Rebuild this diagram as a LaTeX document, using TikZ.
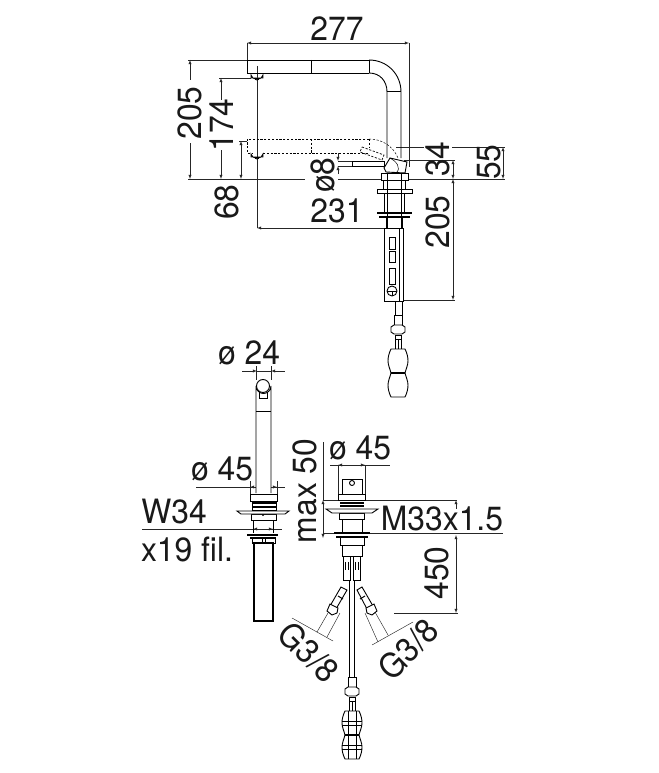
\documentclass[tikz,border=0pt]{standalone}
\usepackage{fontspec}
\setmainfont[FakeStretch=0.95]{TeX Gyre Heros}
\usetikzlibrary{arrows}
\tikzset{
    dimline/.style={line width=0.45pt, color=black!85},
    outline/.style={line width=0.9pt, fill=white},
    fineline/.style={line width=0.45pt, fill=white},
    hidden/.style={line width=0.5pt, dashed, dash pattern=on 2.2pt off 1.6pt},
    dimtext/.style={font=\fontsize{33.5}{35}\selectfont, inner sep=0pt, color=black!90}
}
\begin{document}
\begin{tikzpicture}[x=1pt, y=-1pt]
    \useasboundingbox (0,0) rectangle (658,773);
    % side view, dimensions
    \draw[dimline, latex-latex] (247,43) -- (409,43);
    \draw[dimline] (247,43) -- (247,60);
    \draw[dimline] (409,43) -- (409,167);
    \draw[dimline] (188,60) -- (247,60);
    \draw[dimline, latex-] (190,60) -- (190,80);
    \draw[dimline, -latex] (190,143) -- (190,179);
    \draw[dimline] (219,78) -- (251,78);
    \draw[dimline, latex-] (221,78) -- (221,100);
    \draw[dimline, -latex] (221,150) -- (221,179);
    \draw[dimline] (239,141) -- (247,141);
    \draw[dimline, latex-latex] (241,141) -- (241,179);
    \draw[dimline] (188,179) -- (305,179);
    \draw[dimline] (338,179) -- (505,179);
    \draw[dimline] (257,66) -- (257,228);
    \draw[dimline, latex-latex] (257,228) -- (392,228);
    \draw[dimline] (338,161) -- (352,161);
    \draw[dimline] (338,166) -- (352,166);
    \draw[dimline, -latex] (338,153) -- (338,161);
    \draw[dimline, -latex] (338,174) -- (338,166);
    \draw[dimline] (396,147) -- (424,147);
    \draw[dimline] (452,147) -- (505,147);
    \draw[dimline] (404,160) -- (455,160);
    \draw[dimline, latex-latex] (503,147) -- (503,179);
    \draw[dimline, latex-latex] (453,160) -- (453,179);
    \draw[dimline, latex-latex] (453,179) -- (453,300);
    \draw[dimline] (400,300) -- (455,300);
    % side view, spout
    \draw[line width=0.9pt] (369,60) -- (247,60) -- (247,73) -- (369,73);
    \draw[line width=0.9pt] (311,60) -- (311,73);
    \draw[line width=0.9pt] (369,60) -- (369,73);
    \draw[line width=0.9pt] (369,60) .. controls (387,60) and (401,74) .. (401,92) -- (401,158);
    \draw[line width=0.9pt] (369,73) .. controls (380,73) and (387,81) .. (387,92) -- (387,158);
    \draw[line width=0.9pt] (387,91) -- (401,91);
    \foreach \Point in {(257,71), (257,150)} {
        \draw[outline, shift={\Point}] (-6,7) -- (-6,4) arc (180:0:6 and 4) -- (6,7) -- cycle;
        \draw[line width=0.9pt, shift={\Point}] (-2,7) arc (180:0:2 and 2);
    }
    % side view, pulled out position
    \draw[hidden] (369,139) -- (247,139) -- (247,153) -- (252,153);
    \draw[hidden] (263,153) -- (369,153);
    \draw[hidden] (311,139) -- (311,153);
    \draw[hidden] (369,139) .. controls (382,139) and (393,146) .. (398,158);
    \draw[hidden] (369,139) -- (369,148);
    \draw[hidden, line width=0.7pt] (362,147) -- (384,155) -- (382,160) -- (360,152) -- cycle;
    % side view, lever and body
    \draw[outline] (352,161) rectangle (384,166);
    \draw[outline] (390,158) -- (407,162) -- (405,173) -- (386,172) -- (384,168) -- cycle;
    \draw[line width=0.5pt] (390,158) .. controls (396,161) and (402,168) .. (396,173);
    \foreach \xa/\ya/\xb/\yb in {381/173/408/180, 383/180/405/190, 384/193/404/212, 386/217/402/228, 384/228/403/301}
        \draw[outline] (\xa,\ya) rectangle (\xb,\yb);
    \draw[outline] (377,189) rectangle (412,193);
    \draw[line width=2pt] (377,213) -- (412,213);
    \draw[line width=1.6pt] (379,217) -- (410,217);
    \draw[line width=0.5pt] (387,173) -- (387,228);
    \draw[line width=0.5pt] (401,173) -- (401,228);
    \draw[line width=0.9pt] (399,228) -- (399,301);
    \draw[fineline] (389,237) rectangle (395,249);
    \draw[fineline] (389,251) rectangle (395,262);
    \draw[fineline] (389,268) rectangle (395,284);
    \draw[outline] (392,291) circle (5);
    \draw[line width=0.5pt] (387,291) -- (397,291);
    \draw[line width=0.5pt] (392,291) -- (392,296);
    \draw[line width=0.7pt] (395,301) -- (395,316);
    \draw[line width=0.7pt] (402,301) -- (402,316);
    % front view, dimensions
    \draw[dimline, latex-] (257,371) -- (242,371);
    \draw[dimline, latex-] (271,371) -- (285,371);
    \draw[dimline] (257,371) -- (271,371);
    \draw[dimline] (256,366) -- (256,380);
    \draw[dimline] (271,366) -- (271,380);
    \draw[dimline, latex-latex] (250,487) -- (277,487);
    \draw[dimline] (196,487) -- (285,487);
    \draw[dimline] (250,481) -- (250,494);
    \draw[dimline] (277,481) -- (277,494);
    \draw[dimline] (142,529) -- (282,529);
    \draw[dimline, latex-latex] (253,529) -- (273,529);
    % front view, tap
    \draw[outline] (256,493) -- (256,386) arc (180:0:7.5) -- (271,493);
    \draw[line width=0.9pt] (256,411) -- (271,411);
    \draw[line width=0.9pt] (259,392) -- (259,398) -- (267,398) -- (267,392);
    \draw[outline] (263,386) circle (6.5);
    \foreach \xa/\ya/\xb/\yb in {250/494/277/501, 252/501/276/510, 251/514/276/520, 252/538/275/543}
        \draw[outline] (\xa,\ya) rectangle (\xb,\yb);
    \draw[line width=0.9pt] (253,520) -- (253,533) (273,520) -- (273,533);
    \draw[outline] (237,511) -- (289,511) -- (285,514) -- (241,514) -- cycle;
    \draw[line width=1.4pt] (252,503) -- (276,503);
    \draw[line width=1.4pt] (252,507) -- (276,507);
    \draw[line width=1.6pt] (247,535) -- (278,535);
    \draw[line width=1.4pt] (250,538) -- (276,538);
    \draw[line width=1.4pt, fill=white] (254,543) rectangle (273,621);
    \draw[line width=0.5pt] (262,538) -- (262,543);
    \draw[line width=0.5pt] (265,538) -- (265,543);
    \fill (263,515) circle (1);
    % rear view, dimensions
    \draw[dimline] (330,465) -- (390,465);
    \draw[dimline, latex-latex] (338,465) -- (365,465);
    \draw[dimline] (338,465) -- (338,494);
    \draw[dimline] (365,465) -- (365,494);
    \draw[dimline] (323,442) -- (323,500);
    \draw[dimline, latex-latex] (323,500) -- (323,538);
    \draw[dimline] (323,500) -- (457,500);
    \draw[dimline] (323,533) -- (503,533);
    \draw[dimline, latex-] (456,500) -- (456,509);
    \draw[dimline, latex-latex] (456,535) -- (456,613);
    \draw[dimline] (394,613) -- (458,613);
    \draw[dimline] (328,613) -- (317,632);
    \draw[dimline] (340,613) -- (327,637);
    \draw[dimline] (292,618) -- (333,641);
    \draw[dimline] (365,613) -- (378,642);
    \draw[dimline] (375,612) -- (388,635);
    \draw[dimline] (372,645) -- (413,622);
    % rear view, tap
    \foreach \xa/\ya/\xb/\yb in {342/479/362/494, 338/494/365/500, 339/513/364/519, 340/537/364/545, 342/545/362/556, 343/556/350/580, 353/556/360/580}
        \draw[outline] (\xa,\ya) rectangle (\xb,\yb);
    \draw[line width=0.9pt] (342,519) -- (342,532) (362,519) -- (362,532);
    \draw[outline] (352,483) circle (2.5);
    \draw[line width=1.4pt] (340,503) -- (364,503);
    \draw[line width=1.4pt] (340,506) -- (364,506);
    \draw[outline] (326,509) -- (378,509) -- (372,513) -- (332,513) -- cycle;
    \draw[line width=1.6pt] (334,533) -- (370,533);
    \draw[line width=1.4pt] (336,537) -- (368,537);
    \draw[line width=1pt] (345,562) -- (345,570);
    \draw[line width=1pt] (348,562) -- (348,570);
    \draw[line width=1pt] (355,562) -- (355,570);
    \draw[line width=1pt] (358,562) -- (358,570);
    \draw[line width=0.8pt] (349,580) -- (349,677);
    \draw[line width=0.8pt] (354,580) -- (354,677);
    % rear view, supply hoses
    \draw[outline] (341,587) -- (347,590) -- (336,609) -- (330,606) -- cycle;
    \draw[line width=1pt] (338,596) -- (343,599);
    \draw[outline] (330,604) -- (338,608) -- (337,613) -- (332,615) -- (327,611) -- cycle;
    \draw[outline] (357,590) -- (362,587) -- (373,606) -- (367,609) -- cycle;
    \draw[line width=1pt] (360,599) -- (365,596);
    \draw[outline] (366,608) -- (374,604) -- (377,611) -- (372,615) -- (367,613) -- cycle;
    % hose ends and weights
    \foreach \Point in {(398,315), (352,677)} {
        \draw[outline, shift={\Point}] (-4,0) rectangle (4,10);
        \draw[outline, shift={\Point}] (-4,10) -- (4,10) -- (7,12) -- (7,17) -- (4,19) -- (-4,19) -- (-7,17) -- (-7,12) -- cycle;
        \draw[outline, shift={\Point}] (-3,20) rectangle (3,34);
        \draw[line width=1pt, shift={\Point}] (-3,24) -- (3,24) (0,24) -- (0,34);
        \draw[outline, shift={\Point}] (-7,34) -- (7,34) .. controls (9,38) and (10,42) .. (10,46) .. controls (10,50) and (8,54) .. (7,58) .. controls (8,62) and (10,66) .. (10,70) .. controls (10,74) and (9,78) .. (7,82) -- (-7,82) .. controls (-9,78) and (-10,74) .. (-10,70) .. controls (-10,66) and (-8,62) .. (-7,58) .. controls (-8,54) and (-10,50) .. (-10,46) .. controls (-10,42) and (-9,38) .. (-7,34) -- cycle;
        \draw[line width=1.3pt, shift={\Point}] (-7,58) -- (7,58);
    }
    \draw[line width=0.5pt] (342,721) -- (362,721) (342,725) -- (362,725) (342,745) -- (362,745) (342,749) -- (362,749);
    \draw[line width=0.5pt] (348,711) -- (348,759) (356,711) -- (356,759);
    % labels
    \node[dimtext] (widthA) at (337,29) {277};
    \node[dimtext, rotate=90] (heightA) at (190,113) {205};
    \node[dimtext, rotate=90] (heightB) at (222,125) {174};
    \node[dimtext, rotate=90] (heightC) at (227,202) {68};
    \node[dimtext, rotate=90] (leverD) at (323,175) {ø8};
    \node[dimtext] (reachA) at (337,211) {231};
    \node[dimtext, rotate=90] (offsetA) at (438,159) {34};
    \node[dimtext, rotate=90] (offsetB) at (489,162) {55};
    \node[dimtext, rotate=90] (bodyA) at (438,222) {205};
    \node[dimtext] (spoutD) at (249,353) {ø 24};
    \node[dimtext] (baseD) at (222,469) {ø 45};
    \node[dimtext] (threadA) at (174,512) {W34};
    \node[dimtext] (threadB) at (187,549) {x19 fil.};
    \node[dimtext] (rearD) at (360,448) {ø 45};
    \node[dimtext, rotate=90] (deckA) at (305,491) {max 50};
    \node[dimtext] (threadC) at (442,519) {M33x1.5};
    \node[dimtext, rotate=90] (hoseA) at (437,573) {450};
    \node[dimtext, rotate=-45] (supplyA) at (309,652) {G3/8};
    \node[dimtext, rotate=45] (supplyB) at (408,649) {G3/8};
\end{tikzpicture}
\end{document}
